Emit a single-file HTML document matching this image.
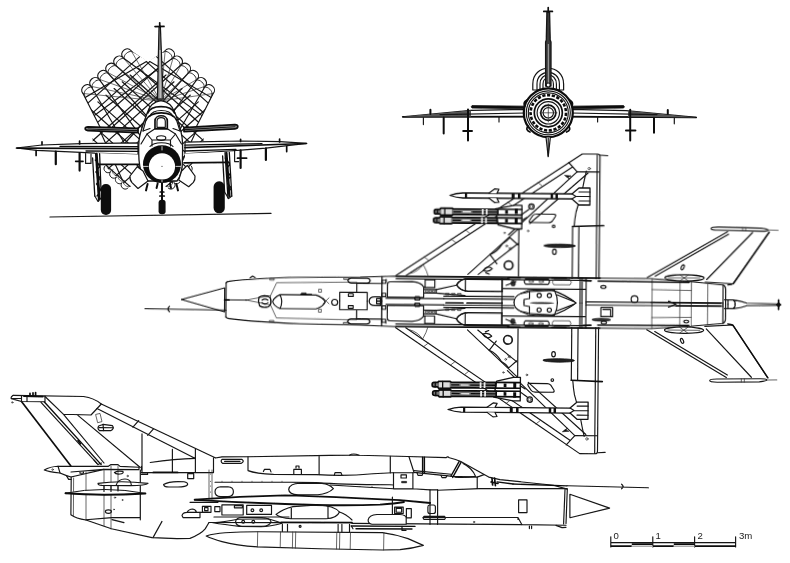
<!DOCTYPE html>
<html><head><meta charset="utf-8"><title>MiG-21 three-view</title>
<style>
html,body{margin:0;padding:0;background:#fff;}
svg{display:block}
text{font-family:"Liberation Sans",sans-serif;fill:#222}
.n{fill:none;stroke:#141414;stroke-width:1.15;stroke-linejoin:round;stroke-linecap:round}
.f{fill:none;stroke:#333;stroke-width:0.75;stroke-linejoin:round;stroke-linecap:round}
.t{fill:none;stroke:#111;stroke-width:1.7;stroke-linejoin:round;stroke-linecap:round}
.w{fill:#fff;stroke:#141414;stroke-width:1.15;stroke-linejoin:round;stroke-linecap:round}
.wf{fill:#fff;stroke:#333;stroke-width:0.75;stroke-linejoin:round}
.wt{fill:#fff;stroke:#111;stroke-width:1.7;stroke-linejoin:round}
.b{fill:#111;stroke:#111;stroke-width:0.6;stroke-linejoin:round}
</style></head>
<body>
<svg width="790" height="563" viewBox="0 0 790 563">
<defs><filter id="soft" x="0" y="0" width="790" height="563" filterUnits="userSpaceOnUse"><feGaussianBlur stdDeviation="0.4"/></filter></defs>
<rect width="790" height="563" fill="#fff"/>
<g filter="url(#soft)">
<g id="chute">
<clipPath id="clU"><polygon points="148.1,62.0 131.0,50.5 83.0,93.5 100.0,127.0 92.0,134.0 93.0,143.0 105.0,166.0 128.0,188.0 148.1,178.0 148.1,178.0 168.2,188.0 191.2,166.0 203.2,143.0 204.2,134.0 196.2,127.0 213.2,93.5 165.2,50.5 148.1,62.0"/></clipPath>
<path class="n" style="stroke-width:1.15" clip-path="url(#clU)" d="M49.9 112.2L57.8 181.8M57.1 105.2L70.4 173.9M64.3 98.2L83.0 165.7M71.6 91.3L95.5 157.0M83.0 93.5L122.4 179.9M91.0 86.3L139.0 168.3M99.0 79.2L155.1 155.8M107.0 72.0L170.6 142.5M115.0 64.8L185.5 128.5M123.0 57.7L260.1 158.2M131.0 50.5L277.6 136.5M19.2 164.6L141.7 54.9M26.2 172.3L149.8 61.6M33.1 180.1L157.9 68.3M40.1 187.8L166.0 75.0M47.0 195.5L174.0 81.8M54.0 203.3L182.1 88.5M61.0 211.0L190.2 95.2M67.9 218.7L198.3 101.9M74.9 226.4L206.3 108.7M81.8 234.2L214.4 115.4M88.8 241.9L222.5 122.1M95.7 249.6L230.6 128.9"/>
<path class="n" style="stroke-width:1.1" d="M83.0 93.5C78.5 88.5 86.5 81.3 91.0 86.3C86.5 81.3 94.5 74.2 99.0 79.2C94.5 74.2 102.5 67.0 107.0 72.0C102.5 67.0 110.5 59.8 115.0 64.8C110.5 59.8 118.5 52.7 123.0 57.7C118.5 52.7 126.5 45.5 131.0 50.5"/>
<path class="n" style="stroke-width:0.9" d="M84.7 95.2C81.7 91.8 89.7 84.6 92.7 88.0C89.7 84.6 97.7 77.5 100.7 80.9C97.7 77.5 105.7 70.3 108.7 73.7C105.7 70.3 113.7 63.1 116.7 66.5C113.7 63.1 121.7 56.0 124.7 59.4C121.7 56.0 129.7 48.8 132.7 52.2"/>
<path class="n" style="stroke-width:1.0" d="M105.0 166.0C101.4 169.7 107.2 175.2 110.8 171.5C107.2 175.2 112.9 180.7 116.5 177.0C112.9 180.7 118.7 186.2 122.2 182.5C118.7 186.2 124.4 191.7 128.0 188.0"/>
<path class="f" style="stroke-width:0.7" d="M107.5 164.0C104.8 166.8 110.4 172.3 113.1 169.5C110.4 172.3 116.0 177.8 118.8 175.0C116.0 177.8 121.6 183.3 124.4 180.5C121.6 183.3 127.2 188.8 130.0 186.0"/>
<path class="n" d="M83.0 93.5L100.0 127.0"/>
<path class="n" style="stroke-width:1.15" clip-path="url(#clU)" d="M246.3 112.2L238.4 181.8M239.1 105.2L225.8 173.9M231.9 98.2L213.2 165.7M224.6 91.3L200.7 157.0M213.2 93.5L173.8 179.9M205.2 86.3L157.2 168.3M197.2 79.2L141.1 155.8M189.2 72.0L125.6 142.5M181.2 64.8L110.7 128.5M173.2 57.7L36.1 158.2M165.2 50.5L18.6 136.5M277.0 164.6L154.5 54.9M270.0 172.3L146.4 61.6M263.1 180.1L138.3 68.3M256.1 187.8L130.2 75.0M249.2 195.5L122.2 81.8M242.2 203.3L114.1 88.5M235.2 211.0L106.0 95.2M228.3 218.7L97.9 101.9M221.3 226.4L89.9 108.7M214.4 234.2L81.8 115.4M207.4 241.9L73.7 122.1M200.5 249.6L65.6 128.9"/>
<path class="n" style="stroke-width:1.1" d="M213.2 93.5C217.7 88.5 209.7 81.3 205.2 86.3C209.7 81.3 201.7 74.2 197.2 79.2C201.7 74.2 193.7 67.0 189.2 72.0C193.7 67.0 185.7 59.8 181.2 64.8C185.7 59.8 177.7 52.7 173.2 57.7C177.7 52.7 169.7 45.5 165.2 50.5"/>
<path class="n" style="stroke-width:0.9" d="M211.5 95.2C214.5 91.8 206.5 84.6 203.5 88.0C206.5 84.6 198.5 77.5 195.5 80.9C198.5 77.5 190.5 70.3 187.5 73.7C190.5 70.3 182.5 63.1 179.5 66.5C182.5 63.1 174.5 56.0 171.5 59.4C174.5 56.0 166.5 48.8 163.5 52.2"/>
<path class="n" style="stroke-width:1.0" d="M191.2 166.0C194.8 169.7 189.0 175.2 185.4 171.5C189.0 175.2 183.3 180.7 179.7 177.0C183.3 180.7 177.5 186.2 173.9 182.5C177.5 186.2 171.8 191.7 168.2 188.0"/>
<path class="f" style="stroke-width:0.7" d="M188.7 164.0C191.4 166.8 185.8 172.3 183.1 169.5C185.8 172.3 180.2 177.8 177.4 175.0C180.2 177.8 174.6 183.3 171.8 180.5C174.6 183.3 168.9 188.8 166.2 186.0"/>
<path class="n" d="M213.2 93.5L196.2 127.0"/>
</g>
<g id="front">
<path class="f" style="stroke-width:0.7" d="M83.0 93.5L160.5 101 M213.2 93.5L160.5 101 M91.0 86.3L160.5 101 M205.2 86.3L160.5 101 M99.0 79.2L160.5 101 M197.2 79.2L160.5 101 M107.0 72.0L160.5 101 M189.2 72.0L160.5 101 M115.0 64.8L160.5 101 M181.2 64.8L160.5 101 M123.0 57.7L160.5 101 M173.2 57.7L160.5 101 M131.0 50.5L160.5 101 M165.2 50.5L160.5 101 "/>
<!-- fin -->
<path class="w" style="stroke-width:1.2;fill:#888" d="M159 27 L157.4 99 L163.2 99 L160.4 27 Z"/>
<path class="t" d="M155 26.6 L164 26.4 M159.7 22.8 L159.8 27"/>
<path d="M160 50 L160.2 98" stroke="#eee" stroke-width="0.8" fill="none"/>
<!-- stabilizers -->
<path class="wt" style="fill:#999" d="M138 128.3 L88 126.8 Q85.2 126.8 85.2 128.6 Q85.2 130.4 88 130.6 L138 132.6 Z"/>
<path class="wt" style="fill:#999" d="M184 127.6 L235 124.6 Q237.8 124.6 237.8 126.6 Q237.8 128.6 235 128.8 L184 131.6 Z"/>
<path class="n" d="M88 129 L138 130.6 M184 129.6 L235 126.8"/>
<!-- wings -->
<path class="w" style="stroke-width:1.2" d="M16.2 148 L42 145 L81 143.7 L138 142.8 L138 154.6 L95 153.2 L81 152.3 L36.6 150.4 Z"/>
<path class="w" style="stroke-width:1.2" d="M306.8 143.4 L280 141.6 L241 141 L185 142.2 L185 153.8 L228.6 151 L241 150.2 L265.9 148.1 Z"/>
<path class="t" d="M17 148.1 L138 148.6 M306 143.5 L185 147.6"/>
<path class="t" style="stroke-width:1.3" d="M60 146.4 L138 146.6 M86 151 L138 151.4 M262 143.6 L185 145.2 M236 149.4 L185 151"/>
<!-- gear door panels (white) -->
<path d="M97 153 L138.8 154.4 L138.8 164.4 L98.6 164.4 Z" fill="#fff"/>
<path d="M185 153.6 L227 152 L227.6 162.4 L185 162.8 Z" fill="#fff"/>
<!-- fuselage -->
<path class="w" style="stroke-width:1.3" d="M160.9 100.6 C154 101.5 149.5 106 147.4 112.6 C145 119 141.5 127.6 139.5 137 C138.3 143 138.6 152 139 160 C139.6 168 142 176 146 181 L177 181 C181 176 182.6 168 182.4 160 C182.6 152 183 143 182 137 C180.5 127.6 177.5 119 174.8 112.6 C172.5 106 168 101.5 160.9 100.6 Z"/>
<!-- canopy arches -->
<path class="t" d="M147.8 113 C151 104.5 171 104.5 174.5 113"/>
<path class="n" d="M149.5 116.5 C153 108.5 169.5 108.5 173 116.5"/>
<path class="t" d="M146 120 C151 110.5 171.5 110.5 176.5 120"/>
<path class="t" d="M155 128.8 L155 121 C155 114 167.3 114 167.3 121 L167.3 128.8 Z"/>
<path class="n" d="M157 127.3 L157 121.5 C157 116.4 165.3 116.4 165.3 121.5 L165.3 127.3 Z"/>
<path class="n" d="M146 120 L143 131 M176.5 120 L180 131 M155 128.8 L147 134 M167.3 128.8 L175.5 134 M147 134 L141 144 M175.5 134 L181.5 144"/>
<path class="n" d="M147 134 L152 140 L152 146 M175.5 134 L170.5 140 L170.5 146 M152 140 L170.5 140"/>
<ellipse class="n" cx="161.2" cy="138" rx="4.6" ry="2.3"/>
<path class="n" d="M143 131 L150 128.5 M180 131 L173 128.5"/>
<!-- intake ring -->
<ellipse cx="162" cy="164.2" rx="19" ry="18.9" fill="#0d0d0d"/>
<circle cx="162" cy="166.4" r="13.1" fill="#fff"/>
<path class="f" d="M143.5 166.4 L148 166.4 M176 166.4 L180.6 166.4 M162 146.6 L162 150 M162 180.4 L162 182.6" style="stroke:#fff;stroke-width:0.8"/>
<circle cx="162" cy="166.4" r="0.6" fill="#555"/>
<path class="n" d="M150 146.5 C154 141.5 169 141.5 173 146.5"/>
<!-- gear doors -->
<path class="w" style="stroke-width:1.2" d="M137.3 166.7 L130 176 Q129.6 180 132 182.6 L138 188.5 L148 181 L143 171 Z"/>
<path class="w" style="stroke-width:1.2" d="M187.3 165.3 L195 176 Q195.4 180 193.4 182.4 L188.7 186.7 L178.7 180 L181.6 171 Z"/>
<!-- under-intake bits -->
<path class="t" style="stroke-width:2" d="M147.6 184 L146 190.4 M176.4 184 L178 190.4 M157.6 183.6 L156.6 188 M170 183.6 L171 188"/>
<!-- nose gear -->
<path class="t" style="stroke-width:2" d="M162 183 L162 201"/><path class="t" d="M160.3 192 L163.8 192 M159.8 196 L164.3 196"/>
<rect x="158.6" y="199.8" width="7" height="14.5" rx="3" fill="#0d0d0d"/>
<!-- main gear left -->
<path class="t" style="stroke-width:2.4" d="M96.6 154 L99.4 199"/>
<path class="t" style="stroke-width:1.3" d="M95.6 153.6 L98.6 201 M99.6 153.6 L101 190 M92.6 158 L94.8 196 M95.3 160 L99.8 166 L95.8 172 L100 178 L96.5 184 L100.5 190 L97 196"/>
<path class="t" d="M98.8 164.4 L138.6 164.4"/>
<path class="n" d="M94.8 196 L98 201.5 L101 198"/>
<rect x="100.8" y="184" width="10.3" height="31" rx="5" fill="#0d0d0d"/>
<!-- main gear right -->
<path class="t" style="stroke-width:2.4" d="M226.4 153 L229.4 196"/>
<path class="t" style="stroke-width:1.3" d="M225 152.6 L228 198 M229.3 152.4 L231.8 196 M222.6 156 L224.6 192 M225 158 L229.8 164 L226 170 L230.6 176 L226.8 182 L231 188 L227.6 194"/>
<path class="t" d="M184 162.8 L226 162.4"/>
<path class="n" d="M224.6 192 L228.6 198.6 L231.8 196"/>
<rect x="213.6" y="181.3" width="11.2" height="32" rx="5.4" fill="#0d0d0d"/>
<!-- pylons left -->
<path class="t" d="M36.1 150.5 L36.1 155.5 M79.6 141.2 L79.6 144 M42 141.8 L42 144.6"/><path class="t" style="stroke-width:2.2" d="M55.8 151.5 L55.8 164.2 M79.6 153 L79.6 170.6"/><path class="t" d="M75.7 161.3 L83 161.3"/>
<path class="n" d="M85.6 153.6 L85.6 163.4 L91 163.4 L91 154"/>
<!-- pylons right -->
<path class="t" d="M286.7 146.6 L286.7 151.6 M240.6 139.4 L240.6 141.5 M279.6 139.2 L279.6 142"/><path class="t" style="stroke-width:2.2" d="M265.9 148.4 L265.9 160 M240.6 150.4 L240.6 168"/><path class="t" d="M237.5 158.2 L246.6 158.2"/>
<path class="n" d="M234.6 151 L234.6 161.6 L238.6 161.6"/>
<!-- ground -->
<path class="n" style="stroke-width:1.2" d="M50 217 L271 213.4"/>

</g>
<g id="rear">
<!-- wings -->
<path class="w" style="stroke-width:1.1" d="M402.4 116.7 L471 110.4 L526 109.4 L526 116.6 Z"/>
<path class="w" style="stroke-width:1.1" d="M696.4 117.4 L626 110.6 L571 109.4 L571 116.6 Z"/>
<path class="t" d="M403 116.9 L526 116.7 M696 117.5 L571 116.7"/>
<path d="M402.4 116.7 L471 110.6 L471 116.6 Z M696.4 117.4 L628 110.8 L628 116.8 Z" fill="#555"/>
<path class="n" d="M440 114.6 L526 113 M657 114.6 L571 113"/>
<!-- stabilizers -->
<path d="M472 105.6 Q470.4 106.8 472 108 L526 108.8 L526 106.2 Z" fill="#0d0d0d" stroke="#0d0d0d" stroke-width="0.8"/>
<path d="M623.6 105.6 Q625.2 106.8 623.6 108 L571 108.8 L571 106.2 Z" fill="#0d0d0d" stroke="#0d0d0d" stroke-width="0.8"/>
<!-- pylons -->
<path class="n" d="M423.4 117.5 L423.4 124.6 M499 116.5 L499 122 M597.6 116.5 L597.6 122 M674.3 118 L674.3 123.8"/>
<path class="t" style="stroke-width:2" d="M443.7 117.5 L443.7 133.4 M468 109.6 L468 140.5 M463.2 131.1 L472 131.1 M430.4 109.8 L430.4 114 M654 117.8 L654 132.8 M630.2 109.8 L630.2 140.5 M626 130.6 L635.4 130.6 M667.8 110 L667.8 114"/>
<!-- spine arcs -->
<path class="w" style="stroke-width:1.2" d="M532.8 90 L532.8 84 C532.8 63 563.6 63 563.6 84 L563.6 90 Z"/>
<path class="n" d="M537 90 L537 84 C537 68.5 559.4 68.5 559.4 84 L559.4 90 M540 90 L540 84 C540 72 556.4 72 556.4 84 L556.4 90 M543 90 L543 84 C543 76 553.4 76 553.4 84 L553.4 90"/>
<!-- fin -->
<path class="w" style="stroke-width:1.3;fill:#3a3a3a" d="M546.9 12 L546.3 40 L545.6 42 L545.6 86 L551 86 L551 42 L550.2 40 L549.6 12 Z"/>
<path class="t" d="M543.8 11.4 L552.4 11.4 M548.2 7.6 L548.2 12"/>
<path d="M548.3 44 L548.3 84" stroke="#ddd" stroke-width="0.7" fill="none"/>
<!-- fuselage -->
<ellipse cx="548.3" cy="112.8" rx="24.5" ry="24.4" fill="#fff" stroke="#0d0d0d" stroke-width="2.2"/>
<ellipse cx="548.3" cy="112.8" rx="22" ry="22" class="n"/>
<circle cx="548.3" cy="112.8" r="17.7" fill="none" stroke="#0d0d0d" stroke-width="2.6" stroke-dasharray="3.2 1.6"/>
<circle cx="548.3" cy="112.8" r="20" class="n"/>
<circle cx="548.3" cy="112.8" r="14" class="t"/>
<circle cx="548.3" cy="112.8" r="11.2" class="n"/>
<circle cx="548.3" cy="112.8" r="7.6" class="t"/>
<circle cx="548.3" cy="112.8" r="5.2" class="n"/>
<path class="f" d="M548.3 104 L548.3 122 M540 112.8 L557 112.8"/>
<circle cx="548.2" cy="85" r="2" class="w"/>
<!-- bumps on outer contour -->
<path class="t" d="M527 100 Q523 102 524.6 106 M569.6 100 Q573.6 102 572 106 M528 126 Q525 130 530 132 M568.6 126 Q571.6 130 566.6 132"/>
<!-- ventral fin -->
<path class="w" style="stroke-width:1.2" d="M546 137 L548.2 156.6 L550.4 137 Z"/>
<path class="n" d="M548.2 138 L548.2 156"/>

</g>
<g id="plan">
<defs>
<g id="ph">
<!-- wing outline -->
<path class="n" d="M396 -26 L581 -149 L596.5 -149 Q598.8 -149 598.8 -146.5 L598.8 -24.5"/>
<path class="n" d="M596 -148.5 L596 -24.5 M598.8 -148 L606.5 -147.5"/>
<path class="n" d="M406 -26 L571.5 -136.1 M567.5 -140.5 L576 -131.2 L598 -131.2"/>
<path class="f" d="M424 -44.6 L428.6 -41 M451 -62.6 L455.6 -59 M465 -72 L469.4 -68.4 M507 -100 L511.6 -96.4 M537 -120 L541.6 -116.4"/>
<path class="f" d="M410 -28 Q418 -30 423 -37 M423 -37 Q427 -30 428 -25.5"/>
<!-- spar lines -->
<path class="n" d="M576 -131.2 L508 -67.5 M587 -130 L529 -79"/>
<!-- aileron/flap -->
<path class="n" d="M585.3 -132 Q583 -122 581.7 -115 Q578 -100 575.3 -91 Q574 -84 573.5 -77"/>
<path class="t" d="M572 -76.5 L603 -77.5"/>
<path class="n" d="M572 -76.5 L572 -24.5 M578.3 -76.5 L578.3 -24.5"/>
<circle class="f" cx="588.1" cy="-134.4" r="1.2"/>
<path class="b" d="M563.5 -127.5 L570 -127 L567 -125.8 L568.5 -124 L566 -125.6 Z"/>
<!-- rounded panel + circle -->
<path class="n" d="M536 -88.5 L553 -88.5 Q556 -88.5 554.5 -86 L551.5 -81.5 Q550 -80 548 -80 L530.5 -80 Q527.5 -80 529 -82.5 L532 -87 Q533 -88.5 536 -88.5 Z"/>
<circle class="n" cx="530.6" cy="-96" r="2.7"/><circle class="f" cx="530.6" cy="-96" r="1.5"/>

<circle class="n" cx="553" cy="-76.5" r="1.3"/>
<!-- pylon oval on flap region -->
<ellipse cx="559.2" cy="-57" rx="15.8" ry="1.7" fill="#222" stroke="#111" stroke-width="0.8"/>
<ellipse class="n" cx="554" cy="-51" rx="1.8" ry="2.6"/>
<!-- main gear bay -->
<path class="n" d="M467.7 -27.6 L516.2 -72.1 L518.3 -74 L518.3 -26"/>
<path class="n" d="M478 -27.6 L517.4 -58.8 M489.6 -47.6 L496.6 -38.4 M509.3 -64.8 L517.4 -57.7 M489.6 -47.6 Q497 -50.4 502 -58.6 Q506 -60.6 509.3 -64.8"/>
<path class="n" d="M483 -31.6 Q487 -37.6 492 -33.6 Q489 -29.6 483 -31.6 Z M485.6 -29.4 L489 -28"/>
<circle cx="508.3" cy="-37.1" r="4.3" fill="none" stroke="#1c1c1c" stroke-width="1.7"/>
<circle class="f" cx="506.2" cy="-56.4" r="0.9"/><path class="f" d="M508.2 -55 L510.4 -52.8 M510.2 -55 L508.4 -52.8 M509.6 -53.6 L511 -54.4"/>
<circle class="f" cx="504" cy="-69.4" r="0.7"/><circle class="f" cx="527.5" cy="-71.6" r="0.8"/>
<!-- outer missile -->
<path class="w" style="stroke-width:1.3" d="M449 -106.5 Q455 -108.7 462 -109 L571 -109 L578 -115 L589 -115 L589 -98 L578 -98 L571 -104 L462 -104 Q455 -104.3 449 -106.5 Z"/>
<path class="n" d="M578 -111 L589 -111 M578 -102 L589 -102 M571 -109 L575 -106.5 L571 -104 M575 -106.5 L589 -106.5"/>
<path class="w" style="stroke-width:1.2" d="M488 -109 L494 -113.4 L498 -113 L496 -109 M488 -104 L494 -99.6 L498 -100 L496 -104"/>
<path d="M464 -109 h2.2 v5 h-2.2z M510.7 -109 h3 v5 h-3z M517 -109 h2.5 v5 h-2.5z M549.7 -109 h2.5 v5 h-2.5z M554.5 -109 h2.5 v5 h-2.5z" fill="#111"/>
<!-- stabilizer -->
<path class="n" d="M647 -26 L727 -72.5 M733 -20.5 L768.3 -72.3 M655 -27.6 L728 -70 M706.5 -24.5 L752 -72"/>
<path class="w" style="stroke-width:1.2" d="M710.4 -75.6 Q710.4 -77.2 718 -77.2 L760 -76.4 Q767.5 -75.6 767.5 -74.6 Q767.5 -73.2 760 -73.4 L718 -74 Q710.4 -74 710.4 -75.6 Z"/>
<path class="f" d="M767.5 -74.6 L777.5 -74.4 M742 -76.8 L742 -73.6 M745 -76.8 L745 -73.6"/>
<path class="n" d="M733 -20.5 L705 -22"/><path class="t" style="stroke-width:1.5" d="M768.6 -72.4 L733.4 -21 Q731.6 -19.6 728 -19.4"/>
<ellipse class="w" cx="684.3" cy="-26" rx="19.6" ry="3.1"/>
<path class="f" d="M668 -26 L700 -26 M680 -28.8 L688 -23.2 M688 -28.8 L680 -23.2"/>
<ellipse class="n" cx="682.4" cy="-36.6" rx="1.3" ry="2.6" transform="rotate(25 682.4 -36.6)"/>
</g>
<g id="pods">
<!-- twin pods -->
<path class="w" style="stroke-width:1.3" d="M494.6 -93.4 L514 -97.1 L521.1 -97.1 L521.1 -73.5 L514 -73.5 L497.4 -77.4 Z"/>
<g id="pod">
<path style="stroke-width:1.7;fill:#777;stroke:#111;stroke-linejoin:round" d="M433.5 -90.5 Q433.5 -92.4 435.5 -92.4 L439 -92.4 L440 -93.7 L451.4 -93.7 L452.4 -93 L497 -93 L497 -87.4 L452.4 -87.4 L451.4 -86.7 L440 -86.7 L439 -87.8 L435.5 -87.8 Q433.5 -87.8 433.5 -89.6 Z"/>
<path d="M440.4 -92.6 h10.6 v4.8 h-10.6z M462 -91 h8 v1.4 h-8z" fill="#ddd"/>
<path class="t" style="stroke-width:1.3" d="M453 -90.2 L460 -90.2 M472 -90.2 L497 -90.2 M436.6 -92.4 L436.6 -87.8 M444 -93.7 L444 -86.7"/>
<path d="M481 -93 h1.8 v5.6 h-1.8z M485 -93 h1.8 v5.6 h-1.8z" fill="#eee"/>
</g>
<use href="#pod" transform="translate(-0.6 8.6)"/>
<path class="t" d="M497 -93 L521 -93 M497 -87.4 L521 -87.4 M497 -84.4 L521 -84.4 M497 -78.8 L521 -78.8"/>
<path d="M504.4 -92 h2.8 v3.6 h-2.8z M504.4 -83.4 h2.8 v3.6 h-2.8z M514 -94 h3 v5.6 h-3z M514 -84.6 h3 v6 h-3z" fill="#111"/>
<path class="n" d="M521 -88 L528 -93 M521 -82 L526 -85"/>
</g>
<!-- fuselage half (symmetric bits) -->
<g id="fh">
<path class="n" d="M224.6 0 L224.6 -12 L181.5 0 M226 -17 Q226.5 -18.4 229 -18.6 C245 -20.6 260 -22 300 -23.2 L360 -24 L396 -25.3 L600 -25 L650 -25 L691 -22.2 L723 -19.2 L723 0"/>
<path class="n" d="M226 -17 L226 0 M396 -22.6 L586 -22.6"/>
<path class="t" style="stroke-width:1.5" d="M396 -25.3 L600 -25"/>
<path class="n" style="stroke-width:1.3" d="M456.5 -17 Q460 -23.4 468 -23.4 L509 -23.4 M502 -10.7 L468 -10.7 Q460 -11 456.5 -17"/>
<ellipse cx="513" cy="-19" rx="2.6" ry="3" fill="#333"/>
<path class="f" d="M270.5 -4.6 L276.5 -17.6 L348.6 -18.8 L356.5 -18.8"/>
<path class="f" d="M246 0 L270.5 -4.6 L270.5 0"/>

<path class="f" d="M319 -11.5 h2.4 v3 h-2.4z M270 -21.8 h4 v1.6 h-4z M344 -23 h5 v1.6 h-5z"/>
<path class="n" d="M339.7 -8.7 L367.2 -8.7 L367.2 0 M339.7 -8.7 L339.7 0 M356.7 -17.8 L356.7 -8.7"/>
<path class="n" d="M348.4 -7.3 h4.8 v2.7 h-4.8z"/>
<path class="n" style="stroke-width:1.3" d="M347.7 -20.6 Q348.6 -22.8 351 -22.8 L367 -22.8 Q369.4 -22.8 370 -20.6 Q369.4 -17.8 367 -17.8 L351 -17.8 Q348.6 -17.8 347.7 -20.6 Z"/>
<path class="n" style="stroke-width:1.3" d="M381.8 -24.6 L381.8 0"/>
<path class="n" d="M356.7 -17.8 L381.8 -17.8 M381.8 -21 h4 v3 h-4z M381.8 -8 h4 v3.4 h-4z M386 -22 L386 -19.5"/>
<path class="n" d="M390 -19.5 Q387.4 -19.5 387.4 -16.8 L387.4 -4.2 L423.6 -4.2 L423.6 -14.6 Q421 -19.4 412 -19.9 Z"/>
<path class="n" d="M369.2 0 Q369.2 -4.4 375 -4.4 L380.4 -4.4 L380.4 0 M376.6 -2.6 h4.8 v2.6 h-4.8z M386 -3.1 L443.8 -3.1"/>
<path class="n" style="stroke-width:1.2" d="M415.4 -4.9 Q413.8 -3.2 415.4 -1.5 L419.2 -1.5 Q420.8 -3.2 419.2 -4.9 Z"/>
<path class="n" d="M425 -21.9 h9.7 v7.7 h-9.7z M424.3 -12.1 L436.1 -12.1 L436.1 -8.6 L424.3 -8.6"/>
<path class="f" d="M426 -11.2 h2.2 v1.8 h-2.2z M429.4 -11.2 h2.2 v1.8 h-2.2z M432.8 -11.2 h2 v1.8 h-2z"/>
<path class="n" d="M436.1 -12.1 L456.5 -16.8 M436.1 -8.6 L465 -6.4 M423.6 -14.6 L425 -14.4"/>
<path class="n" d="M456.5 -17 Q460 -23.4 468 -23.4 L502 -23.4 L502 -10.7 L468 -10.7 Q460 -11 456.5 -17 Z M465.3 -23.4 L465.3 -10.7"/>
<path class="n" d="M443.8 -5.6 L514 -5.6 M443.8 -3.2 L514 -3.2"/>
<path class="f" d="M446 -8.6 h3 v1.6 h-3z M452 -8.6 h3 v1.6 h-3z M458 -8.6 h3 v1.6 h-3z"/>
<!-- gear leg fairing strip -->
<path class="n" d="M502 -23.4 L502 0 M502 -13.6 L586 -13.6 M580 -25 L580 0 M582 -25 L582 0 M586 -25 L586 0"/>
<path class="n" d="M525.5 -23.6 Q522.8 -21 525.5 -18.4 L548 -18.4 Q550.6 -21 548 -23.6 Z"/>
<ellipse class="f" cx="531" cy="-21" rx="2.4" ry="1"/><ellipse class="f" cx="541" cy="-21" rx="2.4" ry="1"/>
<path class="t" d="M508 -24.6 L520 -24.6 M552 -24.6 L566 -24.6"/>
<path class="n" d="M506 -17 L516 -21"/>
<path class="f" d="M553.5 -23.2 Q551 -20.6 553.5 -18 L570 -18 Q572.4 -20.6 570 -23.2 Z"/>
<path class="t" d="M583.5 -22.4 L591 -22.2"/>
<path class="n" d="M529.5 -11 L554.4 -12.4 Q557.6 -6 557.4 0 M557 -8 L574 -1.4"/>
<!-- gun pod half -->
<path class="n" d="M514 0 Q514 -6 521 -9 L528 -12 Q540 -13.4 552 -12.6 Q566 -8 576 0"/>
<path class="n" d="M521 -9 Q526 -9.6 529.5 -11 M529.5 -11 L529.5 -4 L524 -3 L524 0"/>
<circle class="n" cx="539.2" cy="-7.3" r="2.1"/><circle class="n" cx="549.4" cy="-7.3" r="2.1"/>
<!-- rear fuselage panel lines -->
<path class="f" d="M652 -25 L652 0 M679.9 -23 L679.9 0 M691.3 -22.2 L691.3 0 M707.7 -20.6 L707.7 0"/>
<path class="n" d="M723 -19.2 Q725.6 -18 725.6 -15 L725.6 0"/>
<path class="f" d="M652 -14 L691.3 -13.4"/>
<path class="t" style="stroke-width:1.5" d="M598 -22 L689 -21.4"/>
<path class="n" d="M724.5 -4.4 L733 -4.4 Q741 -3.4 747 -1.2 L777 -0.8 M728 -4.4 L728 0 M733 -4.4 Q736 -2 735 0"/>
<path class="t" d="M778.6 -4.6 L778.6 0"/>
<path class="b" d="M776 0 L778.6 -2.4 L781.2 0 Z"/>
</g>
</defs>
<g transform="rotate(0.5 181 299.5) translate(0 299.5)">
<use href="#fh"/><use href="#fh" transform="scale(1 -1)"/>
<use href="#ph"/><use href="#ph" transform="scale(1 -1.011)"/>
<use href="#pods"/><use href="#pods" transform="scale(1 -1) translate(0 -1.4)"/>
<!-- asymmetric centre details -->
<path class="n" d="M250 -22.2 L252.4 -24 L255 -22.6"/>
<path class="n" d="M145 9.5 L226 10.2 M226 0 L246 0"/><path class="t" d="M224.6 0 L229 0"/>
<path class="n" style="stroke-width:1.2" d="M169.6 7 Q166.4 9.4 169.6 12.4"/>
<path class="n" d="M272.7 1.3 Q274 -3 280 -5.6 L316 -5.6 Q323 -3.4 325.3 1.3 Q323 6 316 8.2 L280 8.2 Q274 5.6 272.7 1.3 Z M280 -5.6 Q283.6 1.3 280 8.2"/>
<path class="b" d="M300 -5.6 L301.6 -7.6 L306 -7.6 L307 -6.4 L311.6 -6.4 L312.4 -5.6 Z"/>
<path class="n" style="stroke-width:1.3" d="M259 -3 Q257.6 1.3 259.6 5.6 Q263 8 268 6.6 Q271.4 4.6 271 1.3 Q271.4 -2 268 -4 Q263 -5.4 259 -3 Z"/>
<path class="n" d="M262 0 Q265 -2.4 268 0 M262 2.6 Q265 5 268 2.6"/>
<path class="f" d="M323 -3 L329 3 M329 -3 L323 3"/><circle class="n" cx="334.7" cy="1.5" r="3"/>

<path class="t" d="M446 1 L463 1 M467 1 L502 1"/>
<ellipse cx="542" cy="0.3" rx="12.5" ry="0.9" fill="#222"/>
<path class="n" d="M586 -1.2 L723 -1.2 M586 2 L723 2"/><path class="t" style="stroke-width:1.3" d="M651 -1.3 L721 -1 M676 2 L721 1.8"/>
<path class="n" d="M668.5 -2.6 L676 0.4 L668.5 3.4"/>
<ellipse class="n" cx="603.3" cy="-16.2" rx="2.6" ry="1.5"/>
<circle class="n" cx="634.5" cy="-4.2" r="3.4"/>
<ellipse class="n" cx="686.4" cy="17.6" rx="2.4" ry="1.4"/>
<path class="n" d="M601 4.4 L612.7 4.4 L612.7 13.4 L601 13.4 Z M603 6.4 L610.7 6.4 L610.7 13.4"/>
<ellipse cx="601.5" cy="16.6" rx="9.5" ry="1.5" fill="#333" stroke="#111" stroke-width="0.6"/>
<ellipse class="n" cx="604" cy="19.4" rx="2.6" ry="1.5"/>
</g>

</g>
<g id="side">
<!-- fin -->
<path class="n" style="stroke-width:1.2" d="M13 395.4 L83.5 396.5 Q94 398 101.3 404 L215.2 457.7"/>
<path class="t" d="M21.5 401.5 L70.9 466"/>
<path class="t" style="stroke-width:1.4" d="M44.4 402 L101.2 464.6"/>
<path class="n" d="M41 402.4 L97 463.4"/>
<path class="n" d="M13 395.4 Q10.6 396.6 11.2 398.6 L21.5 401.5 L45 401.7 L45 396 M11.2 398.6 L21.5 398.2 M21.5 395.6 L21.5 401.5 M27 395.8 L27 401.5"/>
<path class="t" d="M24 396.2 L43 396.6 M30 393.4 L30 395.6 M33 392.8 L33 395.6 M35.6 392.6 L35.6 395.8"/>
<circle class="f" cx="12.3" cy="402.4" r="0.7"/>
<!-- fin panels -->
<path class="n" d="M45 396.5 L63.3 414.2 L91 415 L101.3 404 M77 414.6 L140.3 467.5 M63.3 414.2 L104 463"/>
<path class="n" d="M138.7 420.6 L132.9 427.2 M153.5 428.8 L147.7 435.4 M142 433.7 L142 472.4 M172.4 449.4 L172.4 472 M195.4 448.5 L195.4 472"/>
<path class="n" d="M150.2 462.5 Q175 458.8 195.4 458.4 M97 408.6 L195.4 458.4 M213.5 457.8 L213.5 472.6"/>
<path class="n" d="M141.5 472.6 L213 472.6"/><path class="t" d="M153.3 472.4 L177.6 472.4"/>
<path class="f" d="M96 414.4 L100 413.4 L102 421.6 L98 422.6 Z"/>
<path class="w" style="stroke-width:1.1" d="M98.6 426 Q97 428.4 99.4 430.6 L111 430.6 Q114.6 428.4 112.4 425.6 L103 424.4 Z"/>
<path class="n" d="M103 424.4 L103.6 430.6 M99 427.6 L113.4 427.8"/>
<!-- rudder actuator -->
<path class="t" d="M78 440.6 L80.4 443.8"/>
<path class="n" d="M93.6 459.6 L98 464.6 L101.5 463 "/>
<!-- chute fairing -->
<path class="w" d="M44.3 469.9 Q50 466.6 58 466.2 L108 466.4 L111 464.6 L118 464.6 L120 466.4 L139 467.3 L139 469.6 L104 469.4 L71 477 L66.5 475.6 L60 473 Q48 471.6 44.3 469.9 Z"/>
<circle class="f" cx="52.6" cy="469.6" r="0.8"/>
<path class="n" d="M58 466.2 L60 473 M66.5 475.6 L68.6 479.4 L71 479.4 M71 472 L104 469.4 M80 471.2 h3.4 v2 h-3.4z M90 470.6 L100 470"/>
<!-- rear fuselage -->
<path class="n" d="M71.2 477 L70.9 514.8 Q76 518.6 86 520 L111.4 528.7 L152 537.6 L177 538.6 L190 538.4 Q201 534 205.2 528.9 L209 522.5"/>
<path class="f" d="M73.6 478 L73.4 515.6 M86 472 L86 520 M104 469.4 L104 526 M111 466 L111 529 M118 466 L118 492"/>
<path class="n" d="M86 519.8 L112 517.6 L140.3 517.6 M112 519.6 L124 522.6 M153 537.6 L162 521.4 M140.3 470 L140.3 519.8 M141.5 466.4 L141.5 470"/>

<!-- stabilizer -->
<path class="w" style="stroke-width:1" d="M65.3 493.2 Q104 485.6 145.6 493.4 Q100 496 65.3 493.2 Z"/>
<path class="t" style="stroke-width:1.9" d="M65.6 493.3 Q100 496 145.4 493.5"/>
<path class="w" d="M98 483.4 Q120 480 148 483.4 Q146 485.6 130 485.6 L102 485.4 Q98 485 98 483.4 Z"/>
<path class="n" d="M116 485.4 Q118 479 125 479 Q131 479 131.4 485.4 M114.4 472.4 Q118 470.4 123 471.4 Q124 473.6 120 474 Q115.6 474.4 114.4 472.4 Z"/>
<path class="n" d="M104 485.4 L104 491.4 M111 485.4 L111 491.4 M118 485.4 L118 491"/>
<circle class="f" cx="127.6" cy="476" r="0.7"/><circle class="f" cx="115" cy="497.6" r="0.7"/><circle class="f" cx="122.4" cy="500" r="0.5"/><circle class="f" cx="114" cy="509.4" r="0.5"/>
<ellipse class="n" cx="108.4" cy="511.6" rx="3" ry="1.8"/>
<!-- spine -->
<path class="n" d="M215.3 458 L222 456.9 L248 456.7 L330 455.4 L349.4 455.3 Q353 452.8 359 455.2 L407.5 456.5 L446.2 457.6 Q447.6 456 449.4 457.8 Q456 459.4 460.8 461.5 L475.6 469.7 L488.7 477.1 L500 479.6 L553.4 485.3 L567.3 489.1"/>
<path class="n" d="M349.4 455.3 L359 455.2"/>
<path class="n" d="M248 456.7 L248 470.6 Q256 473.6 273.5 474.4 L316.6 474.6 Q345 476.6 373 473.7 L392.4 472.7 L414 472.7"/>
<path class="n" d="M319.1 456.4 L319.1 474.6 M390.3 456.2 L390.3 472.8"/>
<path class="n" d="M222 459.4 Q220 461.4 222.6 463.4 L241 463.4 Q245 461.4 242 459.4 Z M224.6 461.4 L240 461.4"/>
<path class="n" d="M263.4 471.6 L264.4 469.4 L270 469.4 L271 471.9 M293.8 474.4 L293.8 469.4 L301.4 469.4 L301.4 474.4 M334.3 475.4 L335 472.6 L341 472.6 L341.9 475 M296 468 L296 466 L299 466 L299 468"/>
<!-- fuselage side panels -->

<path class="n" d="M215 482.2 L291 482.2 L316.6 482.6 Q340 484.4 390 484.8 L393.5 485"/>
<path class="f" d="M209 470 L209 499 M212 470 L212 499" />
<g fill="#333"><circle cx="222" cy="481.2" r="0.5"/><circle cx="232" cy="481.2" r="0.5"/><circle cx="242" cy="481.2" r="0.5"/><circle cx="252" cy="481.2" r="0.5"/><circle cx="262" cy="481.2" r="0.5"/><circle cx="272" cy="481.2" r="0.5"/><circle cx="282" cy="481.2" r="0.5"/><circle cx="210.5" cy="474" r="0.5"/><circle cx="210.5" cy="481.2" r="0.5"/><circle cx="210.5" cy="486" r="0.5"/><circle cx="210.5" cy="492" r="0.5"/><circle cx="360" cy="486.6" r="0.5"/><circle cx="372" cy="486.6" r="0.5"/></g>
<path class="n" d="M220.6 486.8 Q215 487.4 215 491.7 Q215 496.2 220.6 496.6 L228 496.6 Q233.4 496.2 233.4 491.7 Q233.4 487.2 228 486.8 Z"/>
<path class="n" d="M288.7 489.4 Q289.6 483.6 300 483.3 L322 483.4 Q329 484 333.4 488.6 Q328 494 318 494.7 L298 494.7 Q289 494.6 288.7 489.4 Z"/>
<path class="n" d="M163.6 484.6 Q168 481.6 178 481.6 L184 481.8 Q188 482.6 187.6 484.6 Q186 487 178 487 L169 487 Q164 487 163.6 484.6 Z"/>
<path class="n" d="M187.7 473.6 h6 v5 h-6z M141.5 472.6 L147.6 472.6 L147.6 474.4 L141.5 474.4"/>
<!-- canopy -->
<path class="n" d="M408.9 456.5 L413.9 472 M414 472.4 L452.7 476.4 L477.2 477.1 L484 474.6"/><path class="t" style="stroke-width:1.4" d="M422.6 457.2 L422.6 472.6 M424.4 457.2 L424.4 472.8 M461 462.4 L452.7 477.4 M459.2 461.4 L451 476"/>
<path class="n" d="M414 470.6 L451 474.2 M463 463.6 Q472 468 475.6 476.4 M455 477.2 Q466 478 475.6 476.4"/>
<path class="n" d="M417 472.8 L418 475.4 L422 475.4 L423 473.2 M441 475.2 L442 477.6 L446 477.6 L447 475.6"/>
<!-- panel under canopy -->
<path class="n" d="M393.5 472.7 L393.5 488.8 L412.9 488.8 L412.9 472.7 M412.9 488.8 L430 489.9 L437.6 489.9 M393.5 488.8 L330 485"/>
<path class="n" d="M401 474.8 h5.4 v3.2 h-5.4z"/><path class="b" d="M401.6 481.4 h5 v1.4 h-5z"/>
<path class="n" d="M477.2 477.1 L477.2 488.6 M437.6 490.2 L480 488.6 L567 488.6"/>
<path class="t" d="M492 478.4 L492.6 485 M494.6 478 L495.4 485.6 M491 482 L498 483.4"/>

<!-- pitot -->
<path class="t" style="stroke-width:1.3" d="M513 484 L567 485.8"/>
<path class="n" d="M567 485.8 L648.4 487.8 M621.6 484.2 Q624.6 486.4 621.6 488.8"/>
<path class="t" style="stroke-width:1.3" d="M497 481.8 L513 484"/>
<!-- nose -->
<path class="n" d="M567.3 489.1 L566 523.6 M565 489.4 L563.6 524 M569.9 494.2 L609.6 508.1 L569.9 517.7 Z"/>
<path class="n" d="M566 525.3 L521.8 524.6 L518 517.5 L423 517.5 M518 517.5 L518 519.5 M430 489.9 L430 524.3 M437.6 489.9 L437.6 524.3"/>
<path class="n" d="M518.6 499.8 h8.4 v12.8 h-8.4z" />
<path class="n" d="M529.4 526 L529.4 528.6 M531.6 526 L531.6 528.6 M556 525.4 L562 527.6 L566 527.4"/>
<!-- fuselage bottom -->
<path class="n" d="M209 522.5 L280 522.6 M352 523.4 L521.8 524.6"/>
<!-- wing side -->
<path class="t" style="stroke-width:1.8" d="M194.7 499.7 Q240 496 285 495.3 Q330 496.4 400 500.2 L430.2 503"/>
<path class="t" style="stroke-width:1.8" d="M194.7 499.8 Q240 502.6 285 504 Q340 506.2 380 504.6 Q395 503.6 404 502"/>
<!-- under-wing items -->
<path class="n" d="M190 502.3 L218 502.3 M221.9 504.8 h21.3 v10.2 h-21.3z M246.7 505.4 h24.8 v9 h-24.8z M214 517 L289 517"/>
<circle class="n" cx="252.4" cy="510.2" r="1.4"/><circle class="n" cx="261.2" cy="510.2" r="1.4"/>
<path class="n" d="M234.4 505.6 h8 v2.2 h-8z M202.4 506.3 h8.6 v6 h-8.6z M204.6 507.6 h3.4 v3 h-3.4z M214.8 506.6 h5.2 v5 h-5.2z"/>
<path class="n" d="M213 522.8 Q224 522 237.8 519.3 L268 518.7 Q276 521 282.1 523.2 Q270 526.4 260.9 526.7 L239.6 526.4 Q224 524.6 213 522.8 Z"/>
<path class="n" d="M235.6 521.6 Q236 517.6 242 517.5 L262 517.5 Q270 518 271 521.6 Q270 526 262 526.3 L242 526.3 Q236 526 235.6 521.6 Z"/>
<circle class="n" cx="243.2" cy="521.8" r="1.4"/><circle class="n" cx="253.3" cy="521.8" r="1.4"/>
<path class="n" d="M276 514.4 Q283 509 293 506.6 L318 505 Q334 505.6 339.4 512 Q337 518.4 326 518.7 L291 518.7 Q280 518 276 514.4 Z M291.3 507 L291.3 518.7 M328 505.6 L328 518.7"/>
<path class="n" d="M339.4 512 Q346 514 352 520"/>
<path class="t" d="M281 522.4 L352 522.6"/>
<path class="n" d="M282.4 524.3 L282.4 531.4 M287.5 524.3 L287.5 531.6 M338.1 524.3 L338.1 534 M341.9 524.3 L341.9 534 M349.5 524.3 L349.5 534.6"/>
<circle class="n" cx="300.1" cy="526.3" r="1"/>
<path class="n" d="M394.6 507.1 h8.6 v6.4 h-8.6z M396.2 508.4 h5.4 v3.8 h-5.4z M406.4 508.6 h4.9 v9.2 h-4.9z"/>
<path class="n" d="M429.4 505 Q427.9 505 427.9 507 L427.9 511.5 Q427.9 513.5 429.9 513.5 L433.4 513.5 Q435.4 513.5 435.4 511.5 L435.4 507 Q435.4 505 433.4 505 Z"/>
<path class="w" d="M368.1 520 Q369 515 377 514.5 L400 514.5 Q406.2 515 406.2 518 L406.2 524.2 L372 524.2 Q368.1 523.6 368.1 520 Z"/>
<path class="t" style="stroke-width:1.4" d="M351.3 526 L415 526.4 M356 528.8 L412 529"/><path class="n" d="M392.4 497 L392.4 514.5 M351.3 526 L353 528.8 M402 526.4 L402 530.4 L406 530.4"/>
<path class="n" d="M424 516.3 Q422.5 517.8 424 519.4 L444.6 519.4 Q446.2 517.8 444.6 516.3 Z"/>
<circle class="f" cx="474" cy="522" r="0.7"/>
<!-- ventral items left -->
<path class="n" d="M182 515.6 Q182.6 512.6 187 512.4 L200 512.4 L200 517.6 L183 517.6 Z M187 512.4 Q189 509 192.6 509 Q196 509.4 196.4 512.4"/>
<path class="n" d="M200 512.4 L209 512.4"/>
<!-- drop tank -->
<path class="w" d="M206.2 536 Q214 533.6 225 532.8 Q240 531.7 257.7 531.7 L382.3 532.6 Q396 534.4 408 538.6 L423.3 545.4 Q412 548.6 400 549.6 L382.3 550 L320 548.7 L257.7 546.9 Q236 545.4 222 541.6 Q212 538.8 206.2 536 Z"/>
<path class="f" d="M257.7 531.7 L257.4 546.9 M280.5 531.9 L280.2 547.6 M292.7 532 L292.4 548 M295.7 532 L295.4 548.1 M336.8 532.3 L336.5 549 M339.8 532.3 L339.5 549.1 M350.5 532.4 L350.2 549.3 M383.9 532.8 L383.6 550"/>

</g>
<g id="scale">
<path class="n" d="M610.8 536.7 L610.8 547 M652.8 536.7 L652.8 547 M694.6 536.7 L694.6 547 M735.6 536.7 L735.6 547 M610.8 542.6 L735.6 542.6"/>
<path d="M610.8 545.2 h21 v1.9 h-21z M631.8 543.2 h21 v1.9 h-21z M652.8 545.2 h21 v1.9 h-21z M673.8 543.2 h20.8 v1.9 h-20.8z M694.6 545.2 h41 v1.9 h-41z" fill="#111"/>
<path d="M631.8 545.4 h21 v1.6 h-21z M673.8 545.4 h20.8 v1.6 h-20.8z" fill="#aaa"/>
<text x="613.4" y="538.8" font-size="9.6">0</text>
<text x="655.6" y="538.8" font-size="9.6">1</text>
<text x="697.4" y="538.8" font-size="9.6">2</text>
<text x="739" y="538.8" font-size="9.6">3m</text>

</g>
</g>
</svg>
</body></html>
